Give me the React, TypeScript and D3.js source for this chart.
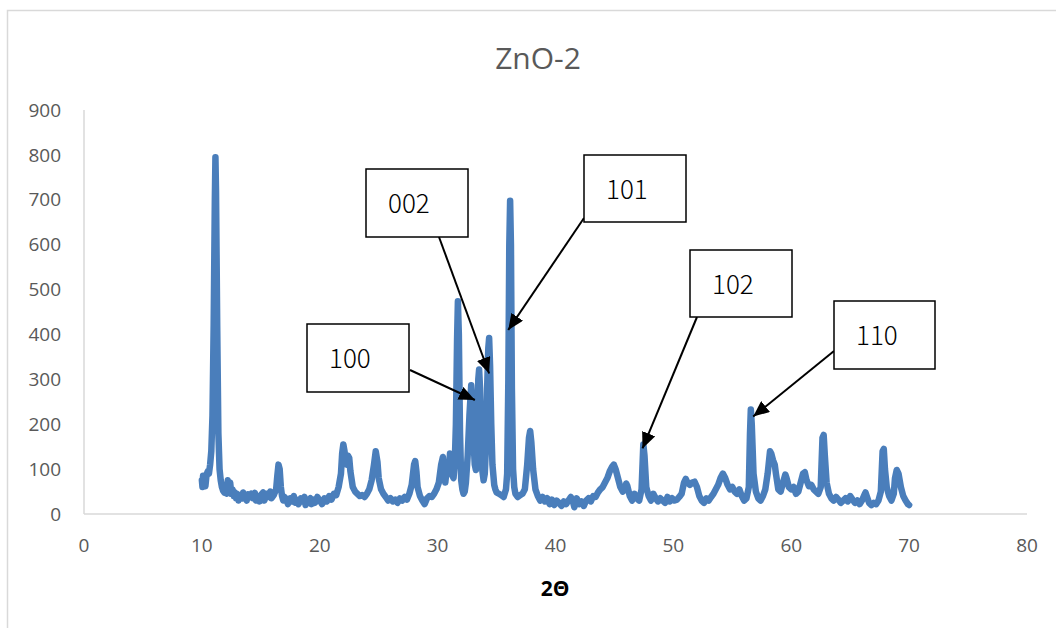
import { useEffect, useRef } from "react";
import * as d3 from "d3";

// 2-theta positions and intensities
const twoTheta = [
  10.0, 10.05, 10.1, 10.15, 10.2, 10.3, 10.4, 10.5, 10.6, 10.7, 10.8, 10.9, 11.0, 11.1, 11.15, 11.2, 11.3, 11.4, 11.5, 11.6,
  11.7, 11.8, 11.9, 12.0, 12.1, 12.2, 12.3, 12.4, 12.5, 12.6, 12.7, 12.8, 12.9, 13.0, 13.1, 13.2, 13.4, 13.5, 13.6, 13.8,
  13.9, 14.0, 14.2, 14.3, 14.5, 14.6, 14.8, 14.9, 15.0, 15.2, 15.3, 15.5, 15.6, 15.8, 15.9, 16.1, 16.3, 16.4, 16.5, 16.6,
  16.7, 16.8, 16.9, 17.0, 17.2, 17.3, 17.5, 17.6, 17.8, 17.9, 18.0, 18.2, 18.4, 18.5, 18.7, 18.8, 19.0, 19.2, 19.3, 19.5,
  19.6, 19.8, 20.0, 20.2, 20.4, 20.6, 20.8, 21.0, 21.2, 21.4, 21.6, 21.8, 21.9, 22.0, 22.1, 22.2, 22.3, 22.4, 22.5, 22.6,
  22.8, 23.0, 23.2, 23.4, 23.6, 23.8, 24.0, 24.2, 24.4, 24.6, 24.75, 24.9, 25.0, 25.2, 25.4, 25.6, 25.8, 26.0, 26.2, 26.4,
  26.6, 26.8, 27.0, 27.2, 27.4, 27.6, 27.8, 28.0, 28.1, 28.2, 28.3, 28.5, 28.7, 28.9, 29.1, 29.3, 29.5, 29.7, 29.9, 30.1,
  30.3, 30.45, 30.55, 30.65, 30.75, 30.85, 30.95, 31.05, 31.15, 31.25, 31.35, 31.45, 31.55, 31.65, 31.72, 31.8, 31.9, 32.0, 32.1, 32.2,
  32.3, 32.4, 32.55, 32.7, 32.85, 32.95, 33.05, 33.15, 33.25, 33.35, 33.45, 33.52, 33.6, 33.7, 33.8, 33.9, 34.0, 34.1, 34.2, 34.3,
  34.37, 34.45, 34.55, 34.65, 34.8, 34.9, 35.0, 35.2, 35.4, 35.6, 35.8, 35.9, 36.0, 36.08, 36.15, 36.22, 36.3, 36.4, 36.5, 36.6,
  36.8, 37.0, 37.2, 37.4, 37.6, 37.75, 37.85, 37.95, 38.1, 38.3, 38.5, 38.7, 38.9, 39.1, 39.3, 39.5, 39.7, 39.9, 40.1, 40.3,
  40.5, 40.7, 40.9, 41.1, 41.3, 41.5, 41.6, 41.8, 42.0, 42.2, 42.4, 42.6, 42.8, 43.0, 43.2, 43.4, 43.6, 43.8, 44.0, 44.2,
  44.4, 44.6, 44.8, 44.95, 45.1, 45.3, 45.5, 45.7, 45.9, 46.0, 46.1, 46.3, 46.5, 46.7, 46.9, 47.1, 47.3, 47.45, 47.55, 47.7,
  47.9, 48.1, 48.3, 48.5, 48.7, 48.9, 49.1, 49.3, 49.5, 49.7, 49.9, 50.1, 50.3, 50.5, 50.7, 50.9, 51.05, 51.2, 51.4, 51.6,
  51.8, 52.0, 52.2, 52.4, 52.6, 52.8, 53.0, 53.2, 53.4, 53.6, 53.8, 54.0, 54.2, 54.4, 54.6, 54.8, 55.0, 55.2, 55.4, 55.6,
  55.8, 56.0, 56.2, 56.4, 56.5, 56.57, 56.65, 56.8, 57.0, 57.2, 57.4, 57.6, 57.8, 58.0, 58.2, 58.3, 58.45, 58.6, 58.7, 58.9,
  59.1, 59.3, 59.5, 59.6, 59.8, 60.0, 60.2, 60.4, 60.6, 60.8, 61.0, 61.15, 61.3, 61.5, 61.7, 61.9, 62.1, 62.3, 62.5, 62.65,
  62.75, 62.85, 63.0, 63.2, 63.4, 63.6, 63.8, 64.0, 64.2, 64.4, 64.6, 64.8, 65.0, 65.2, 65.4, 65.6, 65.8, 66.0, 66.2, 66.3,
  66.4, 66.6, 66.8, 67.0, 67.2, 67.4, 67.6, 67.75, 67.85, 67.95, 68.1, 68.3, 68.5, 68.7, 68.8, 68.95, 69.1, 69.3, 69.5, 69.7,
  69.9, 70.0,
];

const intensity = [
  75, 60, 85, 70, 78, 62, 88, 95, 90, 110, 140, 220, 420, 700, 795, 720, 420, 180, 100, 75,
  60, 52, 48, 60, 45, 75, 62, 70, 45, 55, 40, 48, 35, 45, 30, 42, 35, 48, 38, 30,
  44, 38, 45, 35, 47, 30, 40, 28, 42, 48, 30, 45, 38, 50, 35, 42, 55, 85, 110, 100,
  60, 40, 30, 38, 32, 22, 35, 28, 40, 25, 32, 22, 35, 28, 38, 20, 30, 35, 22, 32,
  25, 38, 30, 22, 35, 28, 40, 32, 45, 42, 60, 90, 135, 155, 140, 120, 110, 130, 125, 95,
  60, 50, 45, 40, 42, 38, 45, 55, 75, 110, 140, 115, 80, 55, 45, 38, 30, 35, 28, 32,
  25, 35, 30, 38, 32, 45, 65, 110, 118, 95, 60, 40, 30, 22, 35, 40, 38, 45, 55, 70,
  110, 127, 100, 70, 95, 115, 90, 135, 125, 85, 80, 110, 200, 390, 474, 400, 180, 75, 55, 45,
  50, 70, 130, 220, 287, 250, 160, 110, 98, 170, 300, 322, 280, 170, 95, 75, 90, 150, 280, 370,
  392, 330, 200, 110, 65, 55, 48, 45, 42, 38, 55, 90, 300, 600, 698, 600, 280, 100, 60, 45,
  38, 42, 45, 55, 110, 170, 185, 160, 100, 55, 40, 30, 38, 28, 35, 22, 32, 20, 30, 25,
  18, 28, 22, 30, 38, 25, 15, 35, 22, 28, 18, 30, 35, 28, 40, 38, 48, 55, 60, 70,
  80, 95, 105, 110, 100, 80, 60, 50, 55, 68, 62, 40, 30, 45, 35, 30, 55, 155, 130, 60,
  40, 30, 45, 35, 28, 35, 30, 25, 38, 28, 35, 30, 32, 38, 45, 70, 78, 70, 65, 70,
  72, 60, 40, 30, 25, 35, 30, 38, 45, 55, 65, 80, 90, 80, 65, 55, 60, 50, 45, 55,
  40, 30, 35, 60, 180, 233, 200, 90, 50, 35, 30, 40, 55, 90, 140, 135, 120, 110, 90, 55,
  50, 70, 88, 80, 60, 55, 60, 45, 50, 70, 90, 93, 75, 62, 65, 55, 50, 45, 60, 170,
  176, 130, 70, 45, 35, 30, 38, 32, 25, 30, 35, 28, 40, 32, 25, 30, 22, 30, 42, 48,
  40, 25, 20, 25, 22, 30, 50, 140, 145, 100, 60, 40, 30, 45, 80, 98, 90, 60, 40, 30,
  22, 20,
];

const xTicks = [0, 10, 20, 30, 40, 50, 60, 70, 80];
const yTicks = [0, 100, 200, 300, 400, 500, 600, 700, 800, 900];

// peak labels: the peak each arrow points at (data units)
const peakLabels = ["100", "002", "101", "102", "110"];
const peakX = [33.16, 34.37, 35.99, 47.38, 56.77];
const peakY = [254, 313, 410, 146, 217];

// where each label box sits on the page
const boxLayout = [
  { x: 307, y: 324, w: 102, h: 68, fromX: 410, fromY: 370 },
  { x: 366, y: 169, w: 102, h: 68, fromX: 439, fromY: 237 },
  { x: 584, y: 155, w: 102, h: 67, fromX: 584, fromY: 218 },
  { x: 690, y: 250, w: 102, h: 67, fromX: 697, fromY: 317 },
  { x: 834, y: 301, w: 101, h: 68, fromX: 834, fromY: 351 },
];

const App = () => {
  const svgRef = useRef<SVGSVGElement | null>(null);

  const width = 1056;
  const height = 628;

  useEffect(() => {
    if (!svgRef.current) return;
    const svg = d3.select(svgRef.current);
    svg.selectAll("*").remove();

    const x = d3.scaleLinear().domain([0, 80]).range([84, 1027]);
    const y = d3.scaleLinear().domain([0, 900]).range([514, 110]);

    const axisColor = "#d9d9d9";
    const textColor = "#595959";
    const font = "'Open Sans', 'Liberation Sans', sans-serif";

    svg.append("rect").attr("width", width).attr("height", height).attr("fill", "#fff");

    // chart frame
    svg.append("rect")
      .attr("x", 7.5)
      .attr("y", 10.5)
      .attr("width", width + 20)
      .attr("height", height + 20)
      .attr("fill", "none")
      .attr("stroke", axisColor)
      .attr("stroke-width", 1.5);

    // title
    svg.append("text")
      .attr("x", 538)
      .attr("y", 69)
      .attr("text-anchor", "middle")
      .attr("font-family", font)
      .attr("font-size", 30)
      .attr("fill", textColor)
      .text("ZnO-2");

    // axes lines
    svg.append("line")
      .attr("x1", x(0)).attr("x2", x(0))
      .attr("y1", y(900)).attr("y2", y(0))
      .attr("stroke", axisColor).attr("stroke-width", 1.5);
    svg.append("line")
      .attr("x1", x(0)).attr("x2", x(80))
      .attr("y1", y(0)).attr("y2", y(0))
      .attr("stroke", axisColor).attr("stroke-width", 1.5);

    // y tick labels
    svg.append("g")
      .selectAll("text")
      .data(yTicks)
      .join("text")
      .attr("x", 61)
      .attr("y", (d) => y(d))
      .attr("dy", "0.35em")
      .attr("text-anchor", "end")
      .attr("font-family", font)
      .attr("font-size", 19)
      .attr("fill", textColor)
      .text((d) => d);

    // x tick labels
    svg.append("g")
      .selectAll("text")
      .data(xTicks)
      .join("text")
      .attr("x", (d) => x(d))
      .attr("y", 552)
      .attr("text-anchor", "middle")
      .attr("font-family", font)
      .attr("font-size", 19)
      .attr("fill", textColor)
      .text((d) => d);

    // x axis title
    svg.append("text")
      .attr("x", 555)
      .attr("y", 596)
      .attr("text-anchor", "middle")
      .attr("font-family", font)
      .attr("font-size", 21)
      .attr("font-weight", "bold")
      .attr("fill", "#000")
      .text("2Θ");

    // pattern
    const pts: [number, number][] = twoTheta.map((t, i) => [t, intensity[i]]);
    const line = d3.line<[number, number]>()
      .x((d) => x(d[0]))
      .y((d) => y(d[1]));

    svg.append("path")
      .attr("d", line(pts) ?? "")
      .attr("fill", "none")
      .attr("stroke", "#4a7ebb")
      .attr("stroke-width", 6.5)
      .attr("stroke-linejoin", "round")
      .attr("stroke-linecap", "round");

    // arrow head
    svg.append("defs")
      .append("marker")
      .attr("id", "arrowHead")
      .attr("markerUnits", "userSpaceOnUse")
      .attr("viewBox", "0 0 16 14")
      .attr("refX", 16)
      .attr("refY", 7)
      .attr("markerWidth", 16)
      .attr("markerHeight", 14)
      .attr("orient", "auto")
      .append("path")
      .attr("d", "M0,0 L16,7 L0,14 Z")
      .attr("fill", "#000");

    // annotations
    const ann = svg.append("g");
    peakLabels.forEach((label, i) => {
      const b = boxLayout[i];
      ann.append("line")
        .attr("x1", b.fromX)
        .attr("y1", b.fromY)
        .attr("x2", x(peakX[i]))
        .attr("y2", y(peakY[i]))
        .attr("stroke", "#000")
        .attr("stroke-width", 2)
        .attr("marker-end", "url(#arrowHead)");
      ann.append("rect")
        .attr("x", b.x)
        .attr("y", b.y)
        .attr("width", b.w)
        .attr("height", b.h)
        .attr("fill", "#fff")
        .attr("stroke", "#000")
        .attr("stroke-width", 1.5);
      ann.append("text")
        .attr("x", b.x + 22)
        .attr("y", b.y + b.h / 2 + 1)
        .attr("dy", "0.35em")
        .attr("font-family", "'Noto Sans CJK JP', 'Noto Sans', sans-serif")
        .attr("font-size", 26)
        .attr("font-weight", 300)
        .attr("fill", "#000")
        .text(label);
    });
  }, []);

  return (
    <svg
      ref={svgRef}
      width={width}
      height={height}
      viewBox={`0 0 ${width} ${height}`}
      style={{ position: "absolute", left: 0, top: 0 }}
    />
  );
};

export default App;
